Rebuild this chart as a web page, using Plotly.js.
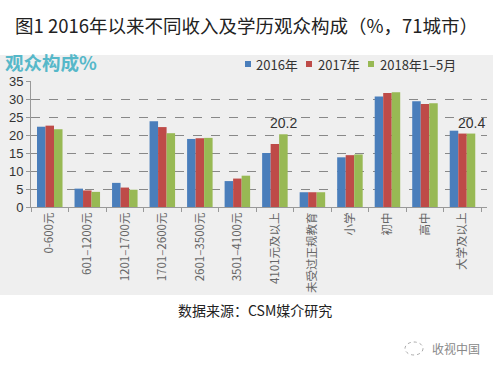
<!DOCTYPE html>
<html>
<head>
<meta charset="utf-8">
<script src="https://cdn.plot.ly/plotly-3.0.1.min.js"></script>
<style>html,body{margin:0;padding:0;background:#fff;}#chart{width:493px;height:370px;}</style>
</head>
<body>
<div id="chart"></div>
<script>
var categories = ["0-600元","601–1200元","1201–1700元","1701–2600元","2601–3500元","3501–4100元","4101元及以上","未受过正规教育","小学","初中","高中","大学及以上"];
var seriesNames = ["2016年","2017年","2018年1–5月"];
var v2016 = [22.3, 5.1, 6.7, 23.8, 18.9, 7.2, 15.0, 4.1, 13.8, 30.7, 29.4, 21.2];
var v2017 = [22.6, 4.6, 5.4, 22.2, 19.1, 7.9, 17.5, 4.1, 14.4, 31.7, 28.6, 20.4];
var v2018 = [21.6, 4.2, 4.8, 20.5, 19.2, 8.7, 20.2, 4.1, 14.6, 31.9, 28.8, 20.4];
var labelIdx = [6, 11];
var colors = ["#4a7ebb", "#be4b48", "#98b954"];

var font = "'Noto Sans CJK SC', 'Noto Sans', sans-serif";
var latin = "'Liberation Sans', Arial, sans-serif";
var vals = [v2016, v2017, v2018];
var traces = vals.map(function(v, i){
  return {type:'bar', x:categories, y:v, name:seriesNames[i], marker:{color:colors[i]}, hoverinfo:'none', showlegend:false};
});

var L = 31, R = 487, T = 81, B = 207;
var W = 493, H = 370;
function px(x){ return (x - L) / (R - L); }
function py(y){ return (B - y) / (B - T); }

var annotations = labelIdx.map(function(i){
  return {x:categories[i], y:v2018[i], xref:'x', yref:'y', text:v2018[i].toFixed(1), showarrow:false,
    xshift:9, yshift:1, yanchor:'bottom', font:{family:latin, size:14, color:'#333'}};
});
annotations.push({xref:'paper', yref:'paper', x:px(246), y:py(25), text:'图1 2016年以来不同收入及学历观众构成（%，71城市）',
  showarrow:false, xanchor:'center', yanchor:'middle', font:{family:font, size:18.5, color:'#222'}});
annotations.push({xref:'paper', yref:'paper', x:px(3), y:py(62), text:'<b>观众构成%</b>',
  showarrow:false, xanchor:'left', yanchor:'middle', font:{family:font, size:18.5, color:'#56b8c9'}});
annotations.push({xref:'paper', yref:'paper', x:px(255), y:py(310), text:'数据来源：CSM媒介研究',
  showarrow:false, xanchor:'center', yanchor:'middle', font:{family:font, size:14, color:'#222'}});
annotations.push({xref:'paper', yref:'paper', x:px(430), y:py(348), text:'收视中国',
  showarrow:false, xanchor:'left', yanchor:'middle', font:{family:font, size:12, color:'#888'}});

var shapes = [
  {type:'rect', xref:'paper', yref:'paper', x0:px(0), x1:px(493), y0:py(295), y1:py(55), fillcolor:'#efefef', line:{width:0}, layer:'below'},
  {type:'circle', xref:'paper', yref:'paper', x0:px(405), x1:px(423), y0:py(355), y1:py(342), line:{color:'#aaa', width:1, dash:'dot'}}
];

// manual legend
var legSq = [245, 306, 368];
var legTx = [254, 316, 378];
for (var i = 0; i < 3; i++) {
  shapes.push({type:'rect', xref:'paper', yref:'paper', x0:px(legSq[i]), x1:px(legSq[i]+6), y0:py(67), y1:py(61),
    fillcolor:colors[i], line:{width:0}});
  annotations.push({xref:'paper', yref:'paper', x:px(legTx[i]), y:py(64), text:seriesNames[i], showarrow:false,
    xanchor:'left', yanchor:'middle', font:{family:font, size:13, color:'#333'}});
}

var layout = {
  width:W, height:H,
  margin:{l:L, r:W-R, t:T, b:H-B, pad:0},
  paper_bgcolor:'#ffffff', plot_bgcolor:'rgba(0,0,0,0)',
  barmode:'group', bargap:0.32, bargroupgap:0,
  showlegend:false,
  xaxis:{type:'category', tickangle:-90, tickfont:{family:font, size:11.5, color:'#666'},
    showline:true, linecolor:'#999', linewidth:1, ticks:'outside', ticklen:4, tickcolor:'#999',
    tickson:'boundaries', showgrid:false, automargin:false},
  yaxis:{range:[0,35], dtick:5, tickfont:{family:latin, size:13, color:'#333'},
    showline:true, linecolor:'#999', linewidth:1, ticks:'outside', ticklen:4, tickcolor:'#999',
    showgrid:true, gridcolor:'#888', griddash:'dash', gridwidth:1, zeroline:false, automargin:false},
  annotations:annotations,
  shapes:shapes,
  font:{family:font}
};

Plotly.newPlot('chart', traces, layout, {staticPlot:true, displayModeBar:false});
</script>
</body>
</html>
